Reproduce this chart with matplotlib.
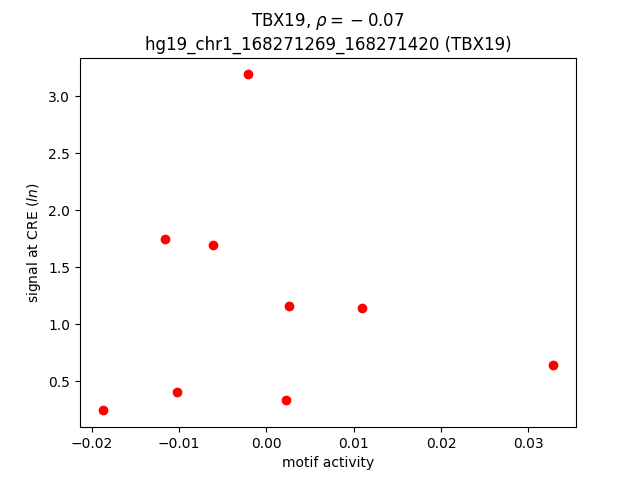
import matplotlib
matplotlib.use("Agg")
import matplotlib.pyplot as plt

# values
motif_activity = [-0.00211, -0.01163, -0.00612, 0.00256, 0.01096,
                  0.03287, -0.01029, 0.00225, -0.01877]
cre_signal = [3.190, 1.743, 1.690, 1.155, 1.138,
              0.638, 0.401, 0.331, 0.243]

gene = "TBX19"
rho = -0.07
region = "hg19_chr1_168271269_168271420"

fig = plt.figure(figsize=(6.4, 4.8), dpi=100)
plt.scatter(motif_activity, cre_signal, color="red")
plt.title(f"{gene}, $\\rho = {{}} {rho:.2f}$\n{region} ({gene})")
plt.xlabel("motif activity")
plt.ylabel("signal at CRE ($ln$)")
plt.savefig("out.png", dpi=100)
plt.close()
